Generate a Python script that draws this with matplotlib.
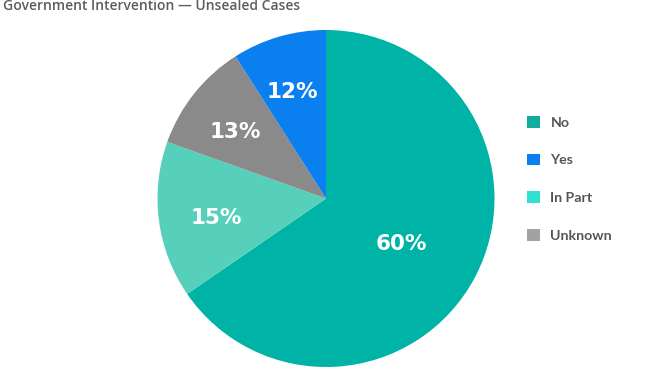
import numpy as np
import matplotlib
matplotlib.use("Agg")
import matplotlib.pyplot as plt
from matplotlib.patches import Patch
from matplotlib.transforms import offset_copy

plt.rcParams['font.family'] = ['Lato', 'DejaVu Sans']

# legend order
categories = ["No", "Yes", "In Part", "Unknown"]
counts = [87, 12, 20, 14]
pct_labels = ["60%", "12%", "15%", "13%"]
slice_colors = ["#00b3a7", "#0a80f0", "#56d0ba", "#8a8a8a"]
legend_colors = ["#12ac9e", "#0a80f0", "#2fe0d3", "#a2a2a2"]

# clockwise from 12 o'clock
pie_order = [0, 2, 3, 1]
label_dist = {0: 0.51, 2: 0.65, 3: 0.68, 1: 0.69}

fig = plt.figure(figsize=(6.5, 3.8), dpi=100)
ax = fig.add_axes([157.5 / 650, 13 / 380, 337 / 650, 337 / 380])

vals = [counts[i] for i in pie_order]
cols = [slice_colors[i] for i in pie_order]
wedges, _ = ax.pie(vals, colors=cols, startangle=90, counterclock=False,
                   radius=1, wedgeprops=dict(linewidth=0))

shifted = offset_copy(ax.transData, fig=fig, x=-1, y=-5, units="dots")
for w, i in zip(wedges, pie_order):
    mid = np.deg2rad((w.theta1 + w.theta2) / 2)
    d = label_dist[i]
    ax.text(d * np.cos(mid), d * np.sin(mid), pct_labels[i], color="white",
            fontsize=15.5, fontweight="bold", family="DejaVu Sans",
            ha="center", va="center", transform=shifted)

ax.set_xlim(-1, 1)
ax.set_ylim(-1, 1)
ax.set_aspect("equal")
ax.axis("off")

handles = [Patch(facecolor=c, edgecolor="none") for c in legend_colors]
fig.legend(handles, categories, loc="upper left",
           bbox_to_anchor=(527 / 650, 1 - 116 / 380), frameon=False,
           borderpad=0, borderaxespad=0, labelspacing=1.76,
           handlelength=0.9, handleheight=0.9, handletextpad=0.75,
           labelcolor="#555555", prop=dict(weight="bold", size=10.2))

fig.text(3 / 650, 1 - 6 / 380, "Government Intervention \u2014 Unsealed Cases",
         fontsize=10, color="#5c5c5c", fontweight="semibold", family="Open Sans",
         ha="left", va="center")

fig.savefig("out.png", dpi=100)
